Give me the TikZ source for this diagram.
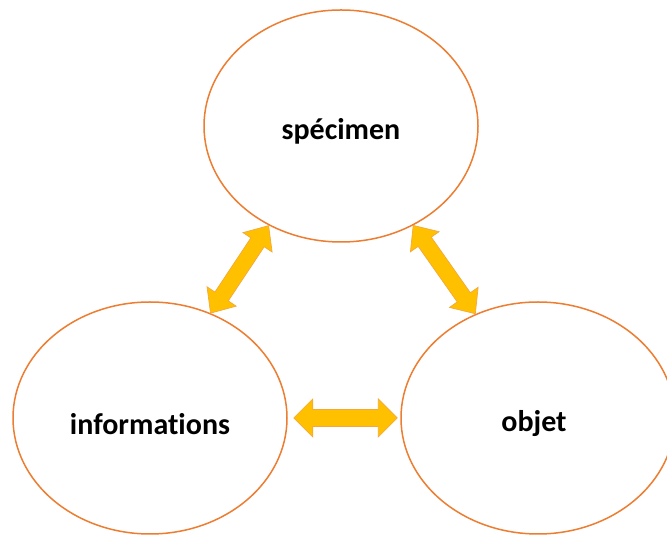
\documentclass[tikz,border=0pt]{standalone}
\usepackage{fontspec}
\setmainfont[Ligatures={NoCommon,NoRare,NoContextual}]{Carlito}
\usetikzlibrary{shapes.geometric,calc}
\definecolor{ringorange}{HTML}{ED7D31}
\definecolor{arrowfill}{HTML}{FFC000}
\definecolor{arrowline}{HTML}{F4A83A}
\tikzset{
  ring/.style={ellipse, draw=ringorange, line width=1.5pt, fill=white,
    minimum width=274pt, minimum height=232pt, inner sep=0pt},
  lbl/.style={font=\fontsize{30}{36}\selectfont\bfseries, text=black},
  barrow/.style={fill=arrowfill, draw=arrowline, line width=0.7pt, line join=miter}
}
% #1 start, #2 end, #3 head length, #4 half head width, #5 half shaft width
\newcommand{\blockarrow}[5]{%
  \filldraw[barrow] let \p1=(#1), \p2=(#2),
    \n1={atan2(\y2-\y1,\x2-\x1)}, \n2={veclen(\x2-\x1,\y2-\y1)} in
    [shift={(\p1)}, rotate=\n1]
    (0,0) -- (#3,#4) -- (#3,#5) -- (\n2-#3,#5) -- (\n2-#3,#4) -- (\n2,0)
    -- (\n2-#3,-#4) -- (\n2-#3,-#5) -- (#3,-#5) -- (#3,-#4) -- cycle;}
\begin{document}
\begin{tikzpicture}[x=1pt,y=1pt]
\useasboundingbox (0,0) rectangle (667,535);
\clip (0,0) rectangle (667,535);
\node[ring] (spec) at (341,409) {};
\node[ring] (info) at (150,117) {};
\node[ring] (obj) at (538,117) {};
\node[lbl] (specl) at (341,404) {spécimen};
\node[lbl] (infol) at (150,111) {informations};
\node[lbl] (objl) at (534,111) {objet};
\coordinate (t1) at (spec.234);
\coordinate (b1) at (info.60);
\coordinate (t2) at (spec.306);
\coordinate (b2) at (obj.121);
\coordinate (h1) at ([xshift=6pt]info.east);
\coordinate (h2) at ([xshift=-3pt]obj.west);
\blockarrow{b1}{t1}{20pt}{17.5pt}{8pt}
\blockarrow{t2}{b2}{20pt}{17.5pt}{8pt}
\blockarrow{h1}{h2}{19pt}{19pt}{8.5pt}
\end{tikzpicture}
\end{document}
